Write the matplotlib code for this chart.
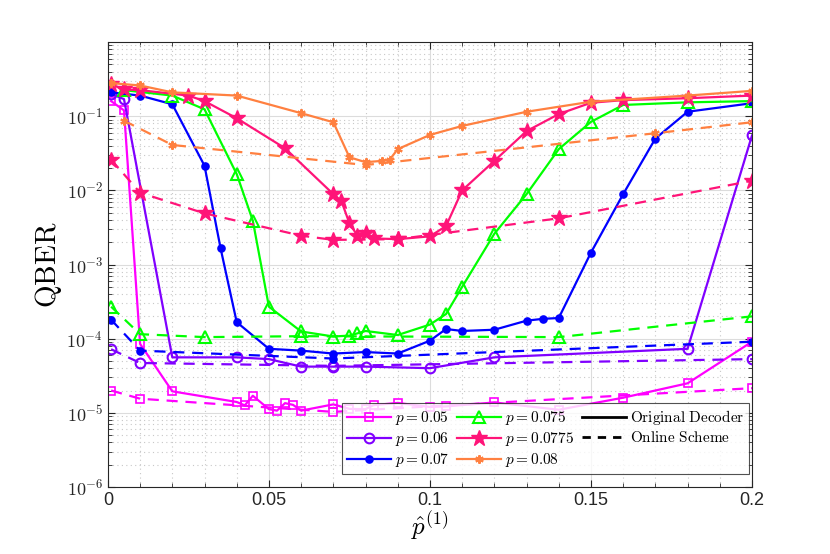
import numpy as np
import matplotlib
matplotlib.use("Agg")
import matplotlib.pyplot as plt
from matplotlib.lines import Line2D
from matplotlib.ticker import FixedLocator, MultipleLocator, FuncFormatter

plt.rcParams['mathtext.fontset'] = 'cm'
plt.rcParams['font.family'] = ['Liberation Sans', 'DejaVu Sans']

# p = 0.05
x05 = [0.001, 0.005, 0.01, 0.02, 0.04, 0.0425, 0.045, 0.05, 0.0525, 0.055, 0.0575, 0.06,
       0.07, 0.075, 0.08, 0.0825, 0.09, 0.1, 0.105, 0.12, 0.14, 0.16, 0.18, 0.2]
y05 = [0.16, 0.12, 8.5e-5, 1.95e-5, 1.4e-5, 1.26e-5, 1.7e-5, 1.12e-5, 1.07e-5, 1.35e-5, 1.28e-5, 1.07e-5,
       1.3e-5, 1.13e-5, 1.12e-5, 1.27e-5, 1.36e-5, 1.2e-5, 1.22e-5, 1.38e-5, 1.1e-5, 1.6e-5, 2.5e-5, 9.1e-5]
x05_on = [0.001, 0.01, 0.07, 0.2]
y05_on = [2.0e-5, 1.55e-5, 1.03e-5, 2.15e-5]

# p = 0.06
x06 = [0.001, 0.005, 0.02, 0.04, 0.05, 0.06, 0.07, 0.08, 0.1, 0.12, 0.18, 0.2]
y06 = [0.2, 0.17, 5.6e-5, 5.6e-5, 5.3e-5, 4.2e-5, 4.2e-5, 4.2e-5, 4.0e-5, 5.6e-5, 7.3e-5, 0.055]
x06_on = [0.001, 0.01, 0.07, 0.2]
y06_on = [7.2e-5, 4.7e-5, 4.3e-5, 5.3e-5]

# p = 0.07
x07 = [0.001, 0.01, 0.02, 0.03, 0.035, 0.04, 0.05, 0.06, 0.07, 0.08, 0.09, 0.1, 0.105, 0.11,
       0.12, 0.13, 0.135, 0.14, 0.15, 0.16, 0.17, 0.18, 0.2]
y07 = [0.21, 0.19, 0.145, 0.0215, 1.65e-3, 1.67e-4, 7.3e-5, 6.9e-5, 6.3e-5, 6.6e-5, 6.3e-5, 9.4e-5, 1.35e-4, 1.27e-4,
       1.32e-4, 1.75e-4, 1.85e-4, 1.9e-4, 1.45e-3, 8.9e-3, 0.05, 0.115, 0.15]
x07_on = [0.001, 0.01, 0.07, 0.2]
y07_on = [1.8e-4, 6.9e-5, 5.4e-5, 9.1e-5]

# p = 0.075
x075 = [0.005, 0.02, 0.03, 0.04, 0.045, 0.05, 0.06, 0.07, 0.075, 0.0775, 0.08, 0.09, 0.1, 0.105,
        0.11, 0.12, 0.13, 0.14, 0.15, 0.16, 0.18, 0.2]
y075 = [0.225, 0.19, 0.124, 0.0166, 3.9e-3, 2.7e-4, 1.25e-4, 1.07e-4, 1.1e-4, 1.18e-4, 1.27e-4, 1.12e-4, 1.55e-4, 2.15e-4,
        5.0e-4, 2.6e-3, 8.9e-3, 0.036, 0.084, 0.142, 0.154, 0.16]
x075_on = [0.001, 0.01, 0.03, 0.06, 0.14, 0.2]
y075_on = [2.7e-4, 1.15e-4, 1.05e-4, 1.08e-4, 1.05e-4, 2.0e-4]

# p = 0.0775
x0775 = [0.001, 0.005, 0.01, 0.025, 0.03, 0.04, 0.055, 0.07, 0.0725, 0.075, 0.0775, 0.08, 0.0825,
         0.09, 0.1, 0.105, 0.11, 0.12, 0.13, 0.14, 0.15, 0.16, 0.18, 0.2]
y0775 = [0.27, 0.23, 0.225, 0.19, 0.16, 0.094, 0.037, 8.9e-3, 7.2e-3, 3.6e-3, 2.45e-3, 2.7e-3, 2.25e-3,
         2.2e-3, 2.4e-3, 3.3e-3, 0.01, 0.025, 0.063, 0.107, 0.152, 0.165, 0.175, 0.19]
x0775_on = [0.001, 0.01, 0.03, 0.06, 0.07, 0.09, 0.14, 0.2]
y0775_on = [0.026, 9.3e-3, 4.9e-3, 2.45e-3, 2.15e-3, 2.2e-3, 4.2e-3, 0.0135]

# p = 0.08
x08 = [0.001, 0.01, 0.02, 0.04, 0.06, 0.07, 0.075, 0.08, 0.085, 0.0875, 0.09, 0.1, 0.11, 0.13,
       0.15, 0.18, 0.2]
y08 = [0.28, 0.26, 0.21, 0.19, 0.11, 0.083, 0.028, 0.024, 0.025, 0.026, 0.036, 0.056, 0.074, 0.115,
       0.157, 0.19, 0.22]
x08_on = [0.005, 0.02, 0.08, 0.17, 0.2]
y08_on = [0.087, 0.041, 0.022, 0.059, 0.083]

labels = ['$p = 0.05$', '$p = 0.06$', '$p = 0.07$', '$p = 0.075$', '$p = 0.0775$', '$p = 0.08$']
colors = ['#ff00ff', '#8000ff', '#0000ff', '#00ff00', '#ff1478', '#ff8040']
asterisk = (6, 2, 0)
styles = [dict(marker='s', ms=6, mfc='none', mew=1.2),
          dict(marker='o', ms=7, mfc='none', mew=1.5),
          dict(marker='o', ms=5, mew=1.2),
          dict(marker='^', ms=8, mfc='none', mew=1.5),
          dict(marker='*', ms=12, mew=1.0),
          dict(marker=asterisk, ms=6, mew=1.5)]

solid = [(x05, y05), (x06, y06), (x07, y07), (x075, y075), (x0775, y0775), (x08, y08)]
online = [(x05_on, y05_on), (x06_on, y06_on), (x07_on, y07_on), (x075_on, y075_on),
          (x0775_on, y0775_on), (x08_on, y08_on)]

fig = plt.figure(figsize=(8.3, 5.54), dpi=100)
ax = fig.add_axes([0.130, 0.121, 0.776, 0.803])

handles = []
for (xs, ys), (xd, yd), c, st, lab in zip(solid, online, colors, styles, labels):
    h, = ax.plot(xs, ys, '-', color=c, lw=1.6, mec=c, label=lab, **st)
    ax.plot(xd, yd, '--', color=c, lw=1.6, mec=c, dashes=(5, 3.5), **st)
    handles.append(h)

ax.set_yscale('log')
ax.set_xlim(0, 0.2)
ax.set_ylim(1e-6, 1)
ax.set_xticks([0, 0.05, 0.1, 0.15, 0.2])
ax.xaxis.set_major_formatter(FuncFormatter(lambda v, pos: '0' if v == 0 else f'{v:g}'))
ax.xaxis.set_minor_locator(MultipleLocator(0.01))
ax.yaxis.set_major_locator(FixedLocator([10.0 ** k for k in range(-6, 0)]))
ax.yaxis.set_major_formatter(FuncFormatter(lambda v, pos: r'$\mathsf{10^{%d}}$' % round(np.log10(v))))
ax.yaxis.set_minor_locator(FixedLocator([m * 10.0 ** k for k in range(-6, 0) for m in range(2, 10)]))
ax.yaxis.set_minor_formatter(FuncFormatter(lambda v, pos: ''))

ax.grid(True, which='major', color='#dcdcdc', lw=0.8, ls='-')
ax.grid(True, which='minor', color='#c8c8c8', lw=0.8, ls=(0, (1, 3)))
ax.set_axisbelow(True)
ax.tick_params(which='both', direction='in', top=True, right=True, colors='#262626', labelsize=13)
ax.tick_params(which='major', length=5)
ax.tick_params(which='minor', length=3)
for s in ax.spines.values():
    s.set_color('#262626')
    s.set_linewidth(0.8)

ax.set_ylabel(r'$\mathrm{QBER}$', fontsize=21, labelpad=2)
ax.set_xlabel(r'$\hat{p}^{(1)}$', fontsize=18, labelpad=0)

handles.append(Line2D([], [], color='black', lw=2, ls='-', label=r'$\mathrm{Original\ Decoder}$'))
handles.append(Line2D([], [], color='black', lw=2, ls='--', dashes=(3, 2.5), label=r'$\mathrm{Online\ Scheme}$'))
leg = ax.legend(handles=handles, ncol=3, loc='lower right', bbox_to_anchor=(0.995, 0.03),
                fontsize=11, frameon=True, fancybox=False, edgecolor='#262626',
                handlelength=2.9, handletextpad=0.25, columnspacing=0.5, labelspacing=0.2,
                borderpad=0.3, borderaxespad=0)
leg.get_frame().set_linewidth(0.8)

fig.savefig('out.png', dpi=100, facecolor='white')
